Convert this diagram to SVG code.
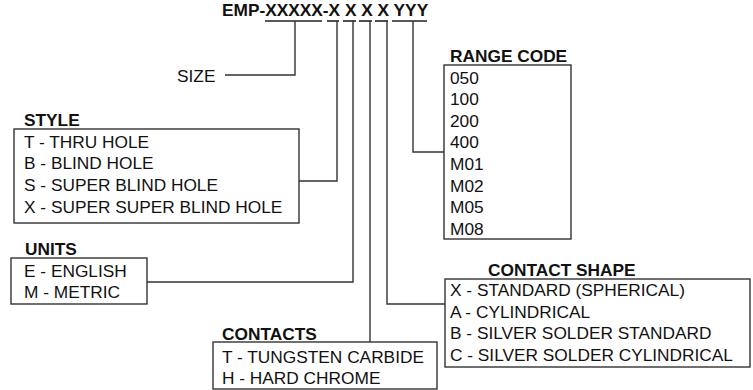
<svg xmlns="http://www.w3.org/2000/svg" width="753" height="390" viewBox="0 0 753 390">
<style>
text{font-family:"Liberation Sans",Arial,sans-serif;font-size:17.3px;fill:#111}
.h{font-weight:bold}
.box{fill:none;stroke:#333;stroke-width:1.4}
.ln{fill:none;stroke:#333;stroke-width:1.4}
.ul{stroke:#222;stroke-width:1.6}
</style>
<rect width="753" height="390" fill="#fff"/>
<g id="title">
<text class="h" x="222" y="16">EMP-XXXXX-X X X X YYY</text>
<line class="ul" x1="265" y1="21" x2="322" y2="21"/>
<line class="ul" x1="327" y1="21" x2="339" y2="21"/>
<line class="ul" x1="343" y1="21" x2="356" y2="21"/>
<line class="ul" x1="359" y1="21" x2="372" y2="21"/>
<line class="ul" x1="375" y1="21" x2="388" y2="21"/>
<line class="ul" x1="392" y1="21" x2="427" y2="21"/>
</g>
<g id="connectors">
<polyline class="ln" points="295,21 295,75 225,75"/>
<polyline class="ln" points="337,21 337,181 299,181"/>
<polyline class="ln" points="353,21 353,282 147,282"/>
<polyline class="ln" points="370,21 370,342"/>
<polyline class="ln" points="387,21 387,304 445,304"/>
<polyline class="ln" points="413,21 413,152 444,152"/>
</g>
<g id="size">
<text x="177" y="82">SIZE</text>
</g>
<g id="style">
<text class="h" x="24" y="126">STYLE</text>
<rect class="box" x="14" y="129" width="285" height="94"/>
<text x="24" y="148">T - THRU HOLE</text>
<text x="24" y="169">B - BLIND HOLE</text>
<text x="24" y="191">S - SUPER BLIND HOLE</text>
<text x="24" y="213">X - SUPER SUPER BLIND HOLE</text>
</g>
<g id="units">
<text class="h" x="25" y="255">UNITS</text>
<rect class="box" x="11" y="258" width="136" height="46"/>
<text x="24" y="277">E - ENGLISH</text>
<text x="24" y="298">M - METRIC</text>
</g>
<g id="contacts">
<rect class="box" x="213" y="342" width="224" height="47"/>
<text class="h" x="222" y="340">CONTACTS</text>
<text x="222" y="363">T - TUNGSTEN CARBIDE</text>
<text x="222" y="384">H - HARD CHROME</text>
</g>
<g id="contact-shape">
<text class="h" x="488" y="276">CONTACT SHAPE</text>
<rect class="box" x="445" y="279" width="305" height="88"/>
<text x="450" y="296">X - STANDARD (SPHERICAL)</text>
<text x="450" y="318">A - CYLINDRICAL</text>
<text x="450" y="339">B - SILVER SOLDER STANDARD</text>
<text x="450" y="361">C - SILVER SOLDER CYLINDRICAL</text>
</g>
<g id="range-code">
<text class="h" x="450" y="62">RANGE CODE</text>
<rect class="box" x="444" y="65" width="127" height="174"/>
<text x="450" y="83.5">050</text>
<text x="450" y="105">100</text>
<text x="450" y="126.7">200</text>
<text x="450" y="148.3">400</text>
<text x="450" y="170">M01</text>
<text x="450" y="191.7">M02</text>
<text x="450" y="213.3">M05</text>
<text x="450" y="235">M08</text>
</g>
</svg>
